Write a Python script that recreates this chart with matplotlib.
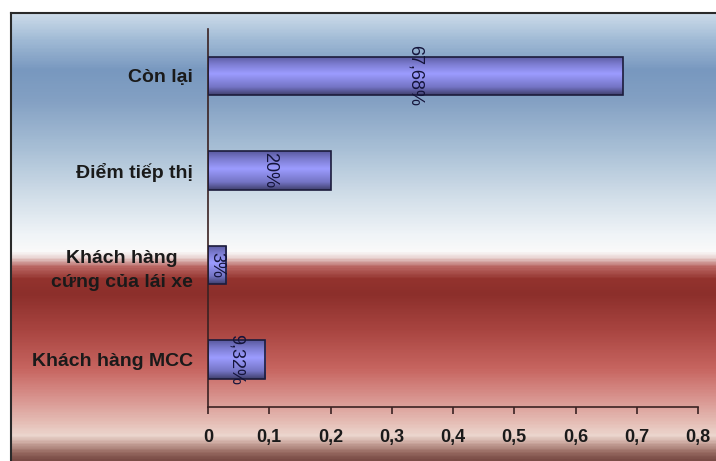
import numpy as np
import matplotlib
matplotlib.use("Agg")
import matplotlib.pyplot as plt
from matplotlib.colors import LinearSegmentedColormap
from matplotlib.ticker import FuncFormatter

plt.rcParams.update({
    "font.family": ["Liberation Sans", "DejaVu Sans"],
    "text.color": "#1a1a1a",
    "xtick.color": "#3a2222",
    "ytick.color": "#1a1a1a",
})

# Data (bottom to top)
categories = ["Khách hàng MCC", "Khách hàng\ncứng của lái xe", "Điểm tiếp thị", "Còn lại"]
shares = [0.0932, 0.03, 0.20, 0.6768]
share_labels = ["9,32%", "3%", "20%", "67,68%"]
x_ticks = [0, 0.1, 0.2, 0.3, 0.4, 0.5, 0.6, 0.7, 0.8]

W, H = 716, 461
fig = plt.figure(figsize=(W / 100, H / 100), dpi=100)
fig.patch.set_facecolor("white")

# Backdrop: steel blue fading to white, then dark red fading to pink
bg_stops = [
    (0.000, "#cddcea"), (0.060, "#a0bad5"), (0.127, "#7898bf"),
    (0.194, "#83a0c3"), (0.306, "#a9c0d6"), (0.417, "#d4e0ea"),
    (0.496, "#f0f4f7"), (0.533, "#fafafa"), (0.547, "#ead6d4"),
    (0.569, "#b86460"), (0.596, "#93332e"), (0.629, "#8c2f2b"),
    (0.708, "#a84440"), (0.797, "#c76560"), (0.864, "#d99590"),
    (0.920, "#e6c0b8"), (0.946, "#ecd6ce"), (0.964, "#c9a59c"),
    (0.982, "#9a6d64"), (1.000, "#7a4c46"),
]
bg_cmap = LinearSegmentedColormap.from_list("backdrop", bg_stops)
bg = fig.add_axes([0, 0, 1, 1], zorder=0)
bg.axis("off")
bg.imshow(np.linspace(0, 1, 400).reshape(-1, 1), cmap=bg_cmap, aspect="auto",
          extent=[11, W, H, 13], interpolation="bilinear")
bg.plot([11, 11], [13, H], color="#2a2a2a", lw=1.5)
bg.plot([11, W], [13, 13], color="#2a2a2a", lw=1.5)
bg.set_xlim(0, W)
bg.set_ylim(H, 0)

# Main chart
ax = fig.add_axes([208 / W, 1 - 407 / H, (698 - 208) / W, (407 - 28.6) / H], zorder=1)
ax.patch.set_alpha(0)

bar_cmap = LinearSegmentedColormap.from_list("bar", [
    (0.0, "#40406e"), (0.2, "#7474c4"), (0.55, "#9c9cff"),
    (0.8, "#7c7cd0"), (1.0, "#5a5aa0"),
])
grad = np.linspace(0, 1, 100).reshape(-1, 1)

ypos = np.arange(len(categories))
bar_h = 0.41
bars = ax.barh(ypos, shares, height=bar_h, color="none",
               edgecolor="#1c1c3c", linewidth=1.2, zorder=3)
for bar, y, v in zip(bars, ypos, shares):
    im = ax.imshow(grad, cmap=bar_cmap, aspect="auto", zorder=2,
                   extent=[0, v, y - bar_h / 2, y + bar_h / 2], origin="lower")
    im.set_clip_path(bar)

for y, v, lab in zip(ypos, shares, share_labels):
    ax.text(v / 2, y, lab, rotation=270, ha="center", va="center",
            fontsize=13, color="#14143a", zorder=4)

ax.set_xlim(0, 0.8)
ax.set_ylim(-0.5, 3.5)
ax.set_xticks(x_ticks)
ax.xaxis.set_major_formatter(FuncFormatter(
    lambda v, _: "0" if v == 0 else f"{v:.1f}".replace(".", ",")))
ax.set_yticks(ypos)
ax.set_yticklabels(categories, ma="center", fontsize=14, fontweight="bold")
for lbl in ax.get_yticklabels():
    lbl.set_linespacing(1.55)
for lbl in ax.get_xticklabels():
    lbl.set_fontweight("bold")
    lbl.set_fontsize(13)
    lbl.set_color("#1a1a1a")
ax.tick_params(axis="x", direction="out", length=5, width=1.2, pad=11)
ax.tick_params(axis="y", length=0, pad=11)

for side in ["top", "right"]:
    ax.spines[side].set_visible(False)
for side in ["left", "bottom"]:
    ax.spines[side].set_color("#3a2222")
    ax.spines[side].set_linewidth(1.2)

fig.savefig("out.png", dpi=100, facecolor=fig.get_facecolor())
